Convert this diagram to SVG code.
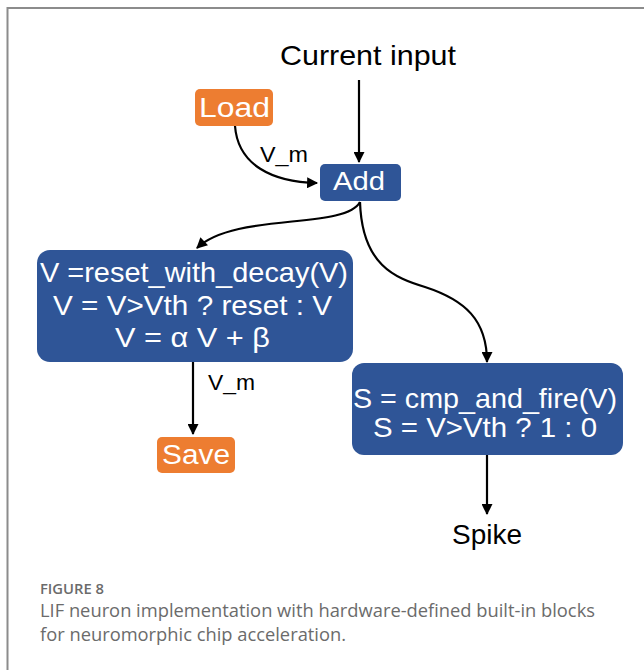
<svg xmlns="http://www.w3.org/2000/svg" width="644" height="670" viewBox="0 0 644 670">
<defs>
<style>
.frame{fill:none;stroke:#8c8c8c;stroke-width:2}
.blue{fill:#2F5597}
.orange{fill:#ED7D31}
.wt{fill:#fff;font-family:"Liberation Sans",Arial,sans-serif;text-anchor:middle}
.bt{fill:#000;font-family:"Liberation Sans",Arial,sans-serif;text-anchor:middle}
.lbl{fill:#000;font-family:"Liberation Sans",Arial,sans-serif;font-size:22px}
.edge{fill:none;stroke:#000;stroke-width:2.2;marker-end:url(#ah)}
.cap{font-family:"Open Sans","Noto Sans",sans-serif;fill:#6b6b6b}
</style>
<marker id="ah" viewBox="0 0 10 10" refX="9" refY="5" markerWidth="5.5" markerHeight="5" orient="auto" markerUnits="strokeWidth">
<path d="M0,0 L10,5 L0,10 Z" fill="#000"/>
</marker>
</defs>
<rect width="644" height="670" fill="#fff"/>
<path class="frame" d="M7.5,670 V8 H644"/>

<g id="connectors">
<path class="edge" d="M359,80 V162"/>
<path class="edge" d="M235,126 C238,165 272,182 317,183"/>
<path class="edge" d="M360,202 C345,230 235,212 197,248"/>
<path class="edge" d="M360,202 C362,265 395,278 425,287 C465,300 487,320 487,362"/>
<path class="edge" d="M193,362 V434"/>
<path class="edge" d="M487,455 V514"/>
</g>

<g id="label-vm1"><text class="lbl" x="260" y="162" textLength="48" lengthAdjust="spacingAndGlyphs">V_m</text></g>
<g id="label-vm2"><text class="lbl" x="208" y="390" textLength="47" lengthAdjust="spacingAndGlyphs">V_m</text></g>

<g id="current-input"><text class="bt" x="368" y="65" font-size="28" textLength="176" lengthAdjust="spacingAndGlyphs">Current input</text></g>

<g id="load">
<rect class="orange" x="195" y="89" width="78" height="37" rx="5"/>
<text class="wt" x="234.5" y="117" font-size="27" textLength="71" lengthAdjust="spacingAndGlyphs">Load</text>
</g>

<g id="add">
<rect class="blue" x="320" y="164" width="81" height="37" rx="5"/>
<text class="wt" x="359" y="190" font-size="26" textLength="52" lengthAdjust="spacingAndGlyphs">Add</text>
</g>

<g id="reset-block">
<rect class="blue" x="37" y="250" width="316" height="112" rx="13"/>
<text class="wt" x="194" y="282" font-size="28" textLength="308" lengthAdjust="spacingAndGlyphs">V =reset_with_decay(V)</text>
<text class="wt" x="192.5" y="315" font-size="28" textLength="279" lengthAdjust="spacingAndGlyphs">V = V&gt;Vth ? reset : V</text>
<text class="wt" x="192.5" y="347" font-size="28" textLength="155" lengthAdjust="spacingAndGlyphs">V = α V + β</text>
</g>

<g id="fire-block">
<rect class="blue" x="352" y="363" width="271" height="92" rx="12"/>
<text class="wt" x="485" y="408" font-size="28" textLength="264" lengthAdjust="spacingAndGlyphs">S = cmp_and_fire(V)</text>
<text class="wt" x="485" y="437" font-size="28" textLength="224" lengthAdjust="spacingAndGlyphs">S = V&gt;Vth ? 1 : 0</text>
</g>

<g id="save">
<rect class="orange" x="157" y="437" width="78" height="36" rx="5"/>
<text class="wt" x="196" y="464" font-size="27" textLength="68" lengthAdjust="spacingAndGlyphs">Save</text>
</g>

<g id="spike"><text class="bt" x="487" y="544" font-size="28" textLength="70" lengthAdjust="spacingAndGlyphs">Spike</text></g>

<g id="caption">
<text class="cap" x="40" y="594" font-size="15" font-weight="600" textLength="64" lengthAdjust="spacingAndGlyphs">FIGURE 8</text>
<text class="cap" x="40" y="617" font-size="17.5" textLength="555" lengthAdjust="spacingAndGlyphs">LIF neuron implementation with hardware-defined built-in blocks</text>
<text class="cap" x="40" y="641" font-size="17.5" textLength="306" lengthAdjust="spacingAndGlyphs">for neuromorphic chip acceleration.</text>
</g>
</svg>
